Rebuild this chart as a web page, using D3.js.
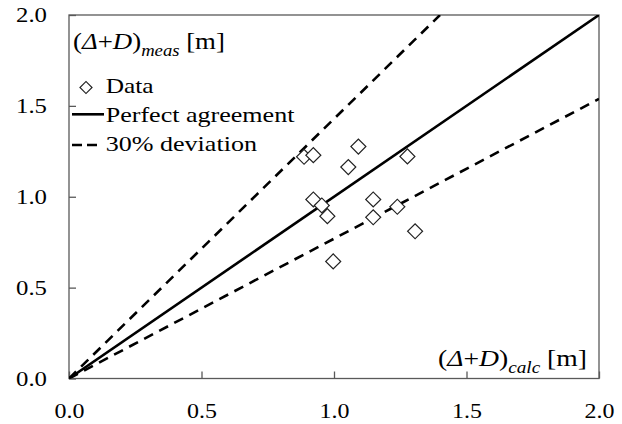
<!DOCTYPE html>
<html>
<head>
<meta charset="utf-8">
<script src="https://cdn.jsdelivr.net/npm/d3@7"></script>
<style>
  body { margin: 0; background: #fff; }
</style>
</head>
<body>
<div id="chart"></div>
<script>
// calculated vs measured (Δ+D), metres
const calcValues = [0.887, 0.922, 1.092, 1.054, 1.277, 0.922, 0.954, 0.975, 1.148, 1.148, 1.239, 1.306, 0.997];
const measValues = [1.220, 1.229, 1.276, 1.163, 1.222, 0.985, 0.952, 0.893, 0.985, 0.887, 0.945, 0.810, 0.644];
const tickValues = [0, 0.5, 1.0, 1.5, 2.0];
const lineSlopes = [1, 1 / 0.7, 1 / 1.3];
const legendLabels = ['Data', 'Perfect agreement', '30% deviation'];

const W = 622, H = 424;
const plot = { left: 69, right: 599, top: 15, bottom: 378.5 };
const frameColor = '#595959';
const serif = '"Liberation Serif", "Times New Roman", "DejaVu Serif", serif';

const svg = d3.select('#chart')
  .append('svg')
    .attr('width', W)
    .attr('height', H)
    .attr('font-family', serif);

const x = d3.scaleLinear().domain([0, 2]).range([plot.left, plot.right]);
const y = d3.scaleLinear().domain([0, 2]).range([plot.bottom, plot.top]);

// squeeze a text horizontally so it spans the given width
function fitWidth(node, target) {
  const w = node.getBBox().width;
  return w > 0 ? target / w : 1;
}

svg.append('clipPath')
    .attr('id', 'clip')
  .append('rect')
    .attr('x', plot.left)
    .attr('y', plot.top)
    .attr('width', plot.right - plot.left)
    .attr('height', plot.bottom - plot.top);

// axes, ticks pointing inward
const xAxis = svg.append('g')
    .attr('transform', `translate(0,${plot.bottom})`)
    .call(d3.axisBottom(x).tickValues(tickValues).tickFormat(d3.format('.1f'))
      .tickSizeInner(-7).tickSizeOuter(0).tickPadding(25));

const yAxis = svg.append('g')
    .attr('transform', `translate(${plot.left},0)`)
    .call(d3.axisLeft(y).tickValues(tickValues).tickFormat(d3.format('.1f'))
      .tickSizeInner(-7).tickSizeOuter(0).tickPadding(22));

[xAxis, yAxis].forEach(a => {
  a.attr('font-family', serif).attr('font-size', 21);
  a.select('.domain').remove();
  a.selectAll('line').attr('stroke', frameColor).attr('stroke-width', 1.3);
  a.selectAll('text').attr('fill', '#000');
});

xAxis.selectAll('text').each(function () {
  d3.select(this).attr('transform', `scale(${fitWidth(this, 30)},1)`);
});
yAxis.selectAll('text').each(function () {
  const sx = fitWidth(this, 31);
  d3.select(this).attr('x', 0).attr('transform', `translate(-22,0) scale(${sx},1)`);
});

svg.append('rect')
    .attr('x', plot.left)
    .attr('y', plot.top)
    .attr('width', plot.right - plot.left)
    .attr('height', plot.bottom - plot.top)
    .attr('fill', 'none')
    .attr('stroke', frameColor)
    .attr('stroke-width', 1.3);

// reference lines
const lineGen = d3.line()
  .x(d => x(d[0]))
  .y(d => y(d[1]));

svg.append('g')
    .attr('clip-path', 'url(#clip)')
  .selectAll('path')
  .data(lineSlopes)
  .join('path')
    .attr('d', s => lineGen([[0, 0], [Math.min(2, 2 / s), Math.min(2, 2 / s) * s]]))
    .attr('fill', 'none')
    .attr('stroke', '#000')
    .attr('stroke-width', 2.6)
    .attr('stroke-dasharray', (s, i) => i === 0 ? null : '10,7');

// data points
const diamond = d3.symbol().type(d3.symbolSquare).size(112);
svg.append('g')
  .selectAll('path')
  .data(calcValues.map((c, i) => [c, measValues[i]]))
  .join('path')
    .attr('d', diamond)
    .attr('transform', d => `translate(${x(d[0])},${y(d[1])}) rotate(45)`)
    .attr('fill', '#fff')
    .attr('stroke', '#222')
    .attr('stroke-width', 1.2);

// free text, fitted to the width it has in the original
function label(px, py, size, anchor) {
  return svg.append('text')
      .attr('text-anchor', anchor || 'start')
      .attr('font-size', size)
      .attr('fill', '#000')
      .attr('data-x', px)
      .attr('data-y', py);
}

function place(t, target) {
  const sx = fitWidth(t.node(), target);
  t.attr('transform', `translate(${t.attr('data-x')},${t.attr('data-y')}) scale(${sx},1)`);
}

function axisTitle(t, sub) {
  t.append('tspan').text('(');
  t.append('tspan').attr('font-style', 'italic').text('Δ');
  t.append('tspan').text('+');
  t.append('tspan').attr('font-style', 'italic').text('D');
  t.append('tspan').text(')');
  t.append('tspan').attr('font-style', 'italic').attr('font-size', 16).attr('dy', 7).text(sub);
  t.append('tspan').attr('dy', -7).text(' [m]');
  return t;
}

place(axisTitle(label(73, 49, 23), 'meas'), 152);
place(axisTitle(label(587, 366, 23, 'end'), 'calc'), 149);

// legend
const legendRows = [93.3, 121.7, 151];
const legendWidths = [48.7, 189, 152];
legendLabels.forEach((name, i) => {
  place(label(105.7, legendRows[i], 21).text(name), legendWidths[i]);
});

svg.append('path')
    .attr('d', d3.symbol().type(d3.symbolSquare).size(72))
    .attr('transform', `translate(86,87.5) rotate(45)`)
    .attr('fill', '#fff')
    .attr('stroke', '#222')
    .attr('stroke-width', 1.2);

svg.append('line')
    .attr('x1', 72).attr('x2', 104)
    .attr('y1', 114.3).attr('y2', 114.3)
    .attr('stroke', '#000')
    .attr('stroke-width', 2.6);

svg.append('line')
    .attr('x1', 72).attr('x2', 98)
    .attr('y1', 145).attr('y2', 145)
    .attr('stroke', '#000')
    .attr('stroke-width', 2.6)
    .attr('stroke-dasharray', '10,5');
</script>
</body>
</html>
